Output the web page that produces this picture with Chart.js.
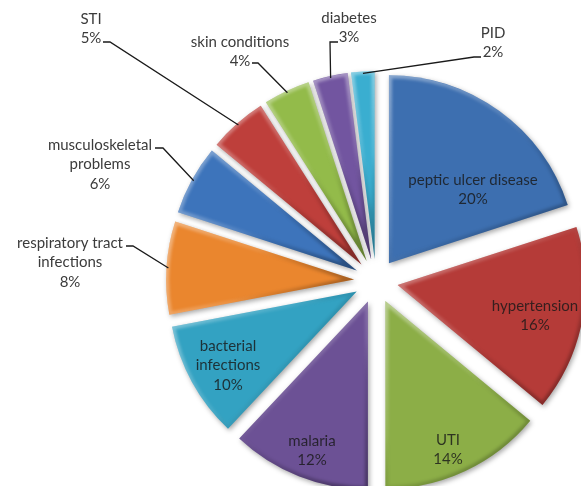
<!DOCTYPE html>
<html><head><meta charset="utf-8">
<script src="https://cdn.jsdelivr.net/npm/chart.js@4.4.1/dist/chart.umd.min.js"></script>
<style>html,body{margin:0;padding:0;background:#fff;overflow:hidden}canvas{display:block}</style>
</head><body>
<canvas id="c" width="581" height="486" style="width:581px;height:486px"></canvas>
<script>
// ---- data ----
const categories = ['peptic ulcer disease','hypertension','UTI','malaria','bacterial infections','respiratory tract infections','musculoskeletal problems','STI','skin conditions','diabetes','PID'];
const percentages = [20,16,14,12,10,8,6,5,4,3,2];
const labelLines = [['peptic ulcer disease'],['hypertension'],['UTI'],['malaria'],['bacterial','infections'],['respiratory tract','infections'],['musculoskeletal','problems'],['STI'],['skin conditions'],['diabetes'],['PID']];

// ---- style / layout ----
const sliceColors = ['#3d6fb0','#b53b38','#8cae47','#6c5195','#33a2c2','#ea862e','#3d74bb','#be3f3b','#93bb4a','#7255a0','#3aaed0'];
const EXPLODE = 22;
const RADIUS = 188;
const LINE_H = 19.5;
const labelLayout = [
  {x:473, y:180, inside:true},
  {x:535, y:306, inside:true},
  {x:448, y:440, inside:true},
  {x:312, y:441, inside:true},
  {x:228, y:346, inside:true},
  {x:70,  y:243, lead:[[126,246],[133,246]]},
  {x:100, y:145, lead:[[155,148],[163,148]]},
  {x:91,  y:19,  lead:[[103,42],[110,42]]},
  {x:240, y:42,  lead:[[252,63],[258,63]]},
  {x:349, y:18,  lead:[[338,42],[330,42]]},
  {x:493, y:33,  lead:[[481,57],[474,57]]}
];

function slicePath(ctx, arc) {
  ctx.beginPath();
  ctx.moveTo(arc.x, arc.y);
  ctx.arc(arc.x, arc.y, arc.outerRadius, arc.startAngle, arc.endAngle);
  ctx.closePath();
}

const explodePlugin = {
  id: 'explode',
  beforeDatasetDraw(chart, args) {
    const ctx = chart.ctx;
    args.meta.data.forEach((arc) => {
      const mid = (arc.startAngle + arc.endAngle) / 2;
      const dx = Math.cos(mid) * EXPLODE, dy = Math.sin(mid) * EXPLODE;
      ctx.save();
      ctx.translate(dx, dy);
      ctx.shadowColor = 'rgba(0,0,0,0.35)';
      ctx.shadowBlur = 5;
      ctx.shadowOffsetX = 1.5;
      ctx.shadowOffsetY = 2;
      arc.draw(ctx);
      ctx.restore();

      // bevel
      const R = arc.outerRadius;
      const pts = [[arc.x, arc.y]];
      for (let k = 0; k <= 8; k++) {
        const a = arc.startAngle + (arc.endAngle - arc.startAngle) * k / 8;
        pts.push([arc.x + Math.cos(a) * R, arc.y + Math.sin(a) * R]);
      }
      const xs = pts.map(p => p[0]), ys = pts.map(p => p[1]);
      const x0 = Math.min(...xs), x1 = Math.max(...xs), y0 = Math.min(...ys), y1 = Math.max(...ys);
      ctx.save();
      ctx.translate(dx, dy);
      slicePath(ctx, arc);
      ctx.clip();
      const g = ctx.createLinearGradient(x0, y0, x1, y1);
      g.addColorStop(0, 'rgba(255,255,255,0.4)');
      g.addColorStop(0.45, 'rgba(255,255,255,0.1)');
      g.addColorStop(0.6, 'rgba(0,0,0,0.08)');
      g.addColorStop(1, 'rgba(0,0,0,0.35)');
      ctx.filter = 'blur(1.5px)';
      ctx.strokeStyle = g;
      ctx.lineWidth = 6;
      ctx.lineJoin = 'round';
      slicePath(ctx, arc);
      ctx.stroke();
      ctx.restore();
    });
    return false;
  }
};

const labelPlugin = {
  id: 'sliceLabels',
  afterDatasetsDraw(chart) {
    const ctx = chart.ctx;
    const meta = chart.getDatasetMeta(0);
    ctx.save();
    ctx.font = '15px Lato';
    ctx.textAlign = 'center';
    ctx.textBaseline = 'middle';
    meta.data.forEach((arc, i) => {
      const L = labelLayout[i];
      const lines = labelLines[i].concat([percentages[i] + '%']);
      ctx.fillStyle = L.inside ? 'rgba(25,25,25,0.82)' : '#3b3b3b';
      lines.forEach((t, j) => ctx.fillText(t, L.x, L.y + j * LINE_H));
      if (L.lead) {
        const mid = (arc.startAngle + arc.endAngle) / 2;
        const ex = arc.x + Math.cos(mid) * (EXPLODE + arc.outerRadius - 2);
        const ey = arc.y + Math.sin(mid) * (EXPLODE + arc.outerRadius - 2);
        ctx.beginPath();
        ctx.moveTo(L.lead[0][0], L.lead[0][1]);
        ctx.lineTo(L.lead[1][0], L.lead[1][1]);
        ctx.lineTo(ex, ey);
        ctx.strokeStyle = '#1a1a1a';
        ctx.lineWidth = 1.3;
        ctx.stroke();
      }
    });
    ctx.restore();
  }
};

new Chart(document.getElementById('c'), {
  type: 'pie',
  data: {
    labels: categories,
    datasets: [{ data: percentages, backgroundColor: sliceColors, borderWidth: 0, radius: RADIUS }]
  },
  options: {
    responsive: false,
    animation: false,
    events: [],
    layout: { padding: { left: 171, top: 76, right: 0, bottom: 0 } },
    plugins: { legend: { display: false }, tooltip: { enabled: false } }
  },
  plugins: [explodePlugin, labelPlugin]
});
</script>
</body></html>
